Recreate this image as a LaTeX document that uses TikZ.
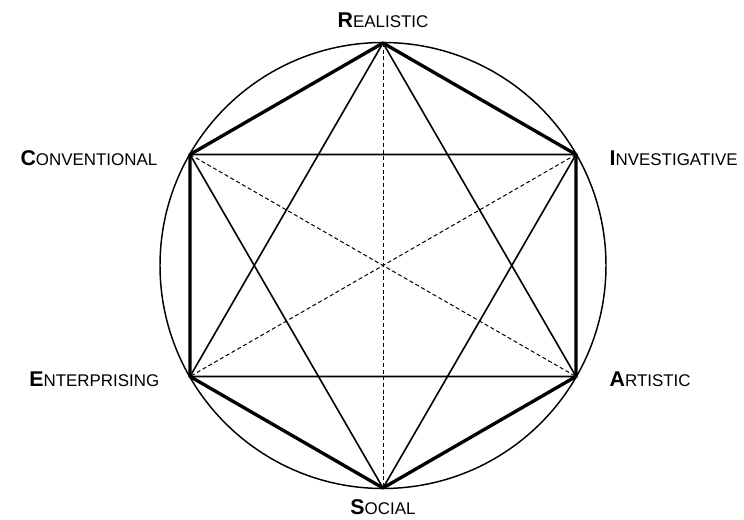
\documentclass[tikz,border=0pt]{standalone}
\usepackage{fontspec}
\setmainfont{Liberation Sans}
\usepackage{tikz}

\newcommand{\typename}[2]{{\fontsize{16}{16}\selectfont\bfseries #1}{\fontsize{12.7}{13}\selectfont #2}}

\begin{document}
\begin{tikzpicture}[x=0.75pt,y=-0.75pt,
  edge/.style={line width=2.5pt, line join=round},
  chord/.style={line width=1.2pt},
  axis/.style={line width=0.75pt, dash pattern=on 3pt off 2pt}]
\useasboundingbox (0,0) rectangle (744,520);
\coordinate (O) at (383,265.5);
\draw[line width=1.1pt] (O) circle (223);
\coordinate (R) at (383,43);
\coordinate (I) at (576,154.5);
\coordinate (A) at (576,376.5);
\coordinate (S) at (383,488);
\coordinate (E) at (190,376.5);
\coordinate (C) at (190,154.5);
%
\draw[axis] (R)--(S);
\draw[axis] (C)--(A);
\draw[axis] (I)--(E);
\draw[chord] (R)--(A)--(E)--cycle;
\draw[chord] (S)--(I)--(C)--cycle;
\draw[edge] (R)--(I)--(A)--(S)--(E)--(C)--cycle;
%
\node (lR) at (383,20) {\typename{R}{EALISTIC}};
\node (lI) at (605,158)[anchor=west]{\typename{I}{NVESTIGATIVE}};
\node (lA) at (605,379)[anchor=west]{\typename{A}{RTISTIC}};
\node (lS) at (383,507) {\typename{S}{OCIAL}};
\node (lE) at (164,379)[anchor=east]{\typename{E}{NTERPRISING}};
\node (lC) at (162,158)[anchor=east]{\typename{C}{ONVENTIONAL}};
\end{tikzpicture}
\end{document}
